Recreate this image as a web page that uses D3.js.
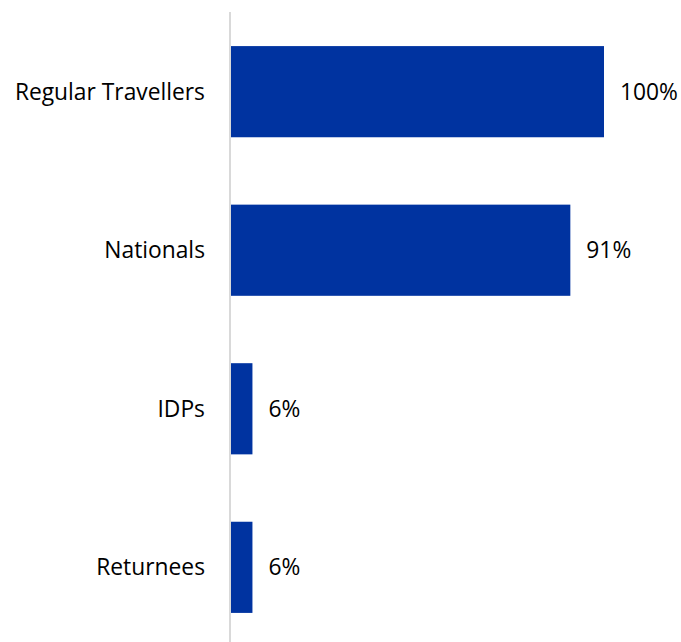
<!DOCTYPE html>
<html>
<head>
<meta charset="utf-8">
<script src="https://cdn.jsdelivr.net/npm/d3@7"></script>
<style>
  body { margin: 0; background: #fff; }
  text { font-family: "Open Sans", Lato, sans-serif; font-size: 22.8px; fill: #000; }
</style>
</head>
<body>
<div id="chart"></div>
<script>
const WIDTH = 681;
const HEIGHT = 642;

const categories = ['Regular Travellers', 'Nationals', 'IDPs', 'Returnees'];
const values = [100, 91, 6, 6];
const valueLabels = ['100%', '91%', '6%', '6%'];

const AXIS_X = 230;

const svg = d3.select('#chart').append('svg')
    .attr('width', WIDTH).attr('height', HEIGHT);

const x = d3.scaleLinear().domain([0, 100]).range([AXIS_X, 604]);
const y = d3.scaleBand().domain(categories).range([12, 647])
    .paddingInner(0.425).paddingOuter(0.215);

// bars
svg.selectAll('rect.bar').data(values).join('rect')
    .attr('class', 'bar')
    .attr('x', x(0))
    .attr('y', (d, i) => y(categories[i]))
    .attr('width', d => x(d) - x(0))
    .attr('height', y.bandwidth())
    .attr('fill', '#0033A0');

// axis line
svg.append('line')
    .attr('x1', AXIS_X).attr('x2', AXIS_X)
    .attr('y1', 12).attr('y2', HEIGHT)
    .attr('stroke', '#d9d9d9').attr('stroke-width', 2);

// category labels
svg.selectAll('text.cat').data(categories).join('text')
    .attr('class', 'cat')
    .attr('x', 205)
    .attr('y', d => y(d) + y.bandwidth() / 2)
    .attr('dy', '0.35em')
    .attr('text-anchor', 'end')
    .text(d => d);

// value labels
svg.selectAll('text.val').data(values).join('text')
    .attr('class', 'val')
    .attr('x', d => x(d) + 16)
    .attr('y', (d, i) => y(categories[i]) + y.bandwidth() / 2)
    .attr('dy', '0.35em')
    .text((d, i) => valueLabels[i]);
</script>
</body>
</html>
